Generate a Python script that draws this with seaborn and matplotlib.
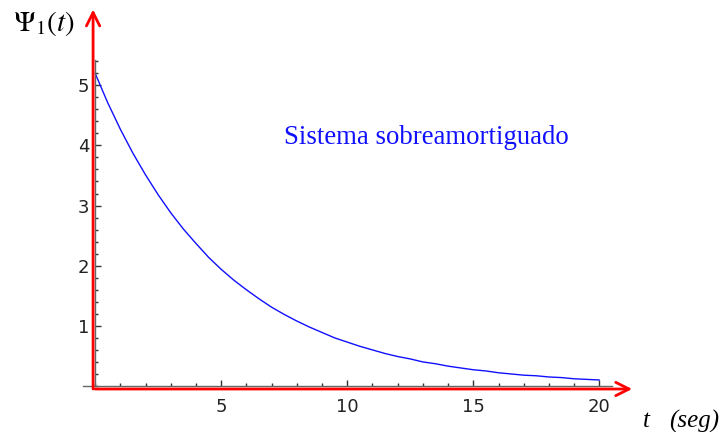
import matplotlib
matplotlib.use("Agg")
import matplotlib.pyplot as plt
import seaborn as sns
import numpy as np
import pandas as pd
from matplotlib.ticker import MultipleLocator

# ---- data ----
t_values = [0.0, 0.5, 1.0, 1.5, 2.0, 2.5, 3.0, 3.5, 4.0, 4.5,
            5.0, 5.5, 6.0, 6.5, 7.0, 7.5, 8.0, 8.5, 9.0, 9.5,
            10.0, 10.5, 11.0, 11.5, 12.0, 12.5, 13.0, 13.5, 14.0, 14.5,
            15.0, 15.5, 16.0, 16.5, 17.0, 17.5, 18.0, 18.5, 19.0, 19.5, 20.0]
psi_values = [5.20, 4.71, 4.27, 3.87, 3.51, 3.18, 2.88, 2.61, 2.37, 2.14,
              1.94, 1.76, 1.60, 1.45, 1.31, 1.19, 1.08, 0.98, 0.89, 0.80,
              0.73, 0.66, 0.60, 0.54, 0.49, 0.45, 0.40, 0.37, 0.33, 0.30,
              0.27, 0.25, 0.22, 0.20, 0.18, 0.17, 0.15, 0.14, 0.12, 0.11, 0.10]
x_major_ticks = [5, 10, 15, 20]
y_major_ticks = [1, 2, 3, 4, 5]
annotation_text = "Sistema sobreamortiguado"
y_label = r"$\Psi_1(t)$"
x_label_var = "t"
x_label_unit = "(seg)"

df = pd.DataFrame({"t": t_values, "psi": psi_values})

sns.set_style("white")
plt.rcParams["mathtext.fontset"] = "stix"

fig = plt.figure(figsize=(7.24, 4.32), dpi=100)
fig.patch.set_facecolor("white")
ax = fig.add_axes([83 / 724, 46 / 432, 529 / 724, 326 / 432])

sns.lineplot(data=df, x="t", y="psi", ax=ax, color="#1010ff", lw=1.0,
             clip_on=False, legend=False)

ax.set_xlim(-0.48, 20.5)
ax.set_ylim(0, 5.42)

for side in ["top", "right"]:
    ax.spines[side].set_visible(False)
ax.spines["left"].set_position(("data", 0))
ax.spines["bottom"].set_position(("data", 0))
for side in ["left", "bottom"]:
    ax.spines[side].set_color("#666666")
    ax.spines[side].set_linewidth(1.0)

ax.set_xticks(x_major_ticks)
ax.set_yticks(y_major_ticks)
ax.xaxis.set_minor_locator(MultipleLocator(1))
ax.yaxis.set_minor_locator(MultipleLocator(0.2))
ax.tick_params(axis="x", which="both", bottom=True, top=False)
ax.tick_params(axis="y", which="both", left=True, right=False)
ax.tick_params(axis="x", which="major", direction="in", length=4, width=1,
               color="#333333", labelsize=13, labelcolor="#222222", pad=9)
ax.tick_params(axis="x", which="minor", direction="in", length=2.5, width=1,
               color="#333333")
ax.tick_params(axis="y", which="major", direction="in", length=4, width=1,
               color="#333333", labelsize=13, labelcolor="#222222", pad=4)
ax.tick_params(axis="y", which="minor", direction="in", length=2.5, width=1,
               color="#333333")
ax.set_xlabel("")
ax.set_ylabel("")

# red arrows for the axes
ax.annotate("", xy=(21.3, -0.05), xytext=(0.0, -0.05), xycoords="data",
            arrowprops=dict(arrowstyle="->", color="red", lw=2.0,
                            mutation_scale=24, shrinkA=0, shrinkB=0),
            annotation_clip=False)
ax.annotate("", xy=(-0.08, 6.26), xytext=(-0.08, -0.05), xycoords="data",
            arrowprops=dict(arrowstyle="->", color="red", lw=2.0,
                            mutation_scale=24, shrinkA=0, shrinkB=0),
            annotation_clip=False)

# labels
fig.text(13 / 724, 1 - 24 / 432, y_label, fontsize=21, va="center", ha="left",
         color="black")
fig.text(643 / 724, 1 - 421 / 432, x_label_var, fontsize=18, va="center",
         ha="left", family="Liberation Serif", style="italic", color="black")
fig.text(669 / 724, 1 - 421 / 432, x_label_unit, fontsize=18, va="center",
         ha="left", family="Liberation Serif", style="italic", color="black")
fig.text(426 / 724, 1 - 138 / 432, annotation_text, fontsize=19.3,
         va="center", ha="center", family="Liberation Serif", color="#1010ff")

fig.savefig("out.png", dpi=100, facecolor="white")
